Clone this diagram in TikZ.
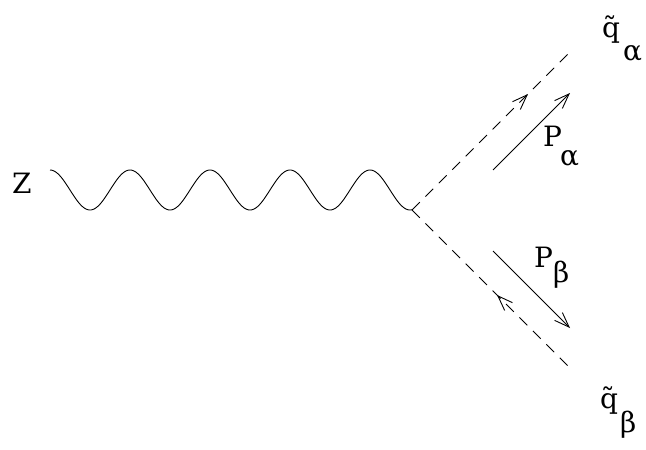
\documentclass[tikz,border=0pt]{standalone}
\usepackage{fontspec}
\setmainfont{DejaVu Serif}
\usetikzlibrary{arrows.meta}
\begin{document}
\begin{tikzpicture}[x=1pt,y=-1pt,
  lbl/.style={inner sep=0pt, anchor=base west, font=\fontsize{28}{34}\selectfont},
  boson/.style={line width=0.9pt},
  scalar/.style={dash pattern=on 11pt off 8pt, line width=0.9pt},
  headonly/.style={line width=0.9pt, -{Straight Barb[length=15pt,width=11pt]}},
  mom/.style={line width=0.9pt, -{Straight Barb[length=15pt,width=11pt]}}]
\useasboundingbox (0,0) rectangle (646,450);
\coordinate (zs) at (50,170);
\coordinate (v) at (412,210);
\coordinate (qa) at (570,52);
\coordinate (qb) at (570,368);
% Z boson line
\draw[boson] plot[domain=50:412, samples=240, smooth] (\x, {190-20*cos(4.5*(\x-50))});
% scalar lines
\draw[scalar] (v) -- (qa);
\draw[scalar] (v) -- (qb);
\path (v) -- (qa) coordinate[pos=0.72] (ata) coordinate[pos=0.734] (atb);
\path (v) -- (qb) coordinate[pos=0.56] (bta) coordinate[pos=0.538] (btb);
\draw[headonly] (ata) -- (atb);
\draw[headonly] (bta) -- (btb);
% momentum arrows
\coordinate (pa1) at (493,170);
\coordinate (pa2) at (570,93);
\coordinate (pb1) at (493,251);
\coordinate (pb2) at (570,328);
\draw[mom] (pa1) -- (pa2);
\draw[mom] (pb1) -- (pb2);
% labels
\node[lbl] (Z) at (12,193) {Z};
\node[lbl] (Pa) at (543,146) {P};
\node[lbl] (Pasub) at (560,165) {α};
\node[lbl] (Pb) at (534,267) {P};
\node[lbl] (Pbsub) at (553,282) {β};
\node[lbl] (qan) at (602,37) {\~{q}};
\node[lbl] (qasub) at (623,60) {α};
\node[lbl] (qbn) at (600,408) {\~{q}};
\node[lbl] (qbsub) at (620,432) {β};
\end{tikzpicture}
\end{document}
